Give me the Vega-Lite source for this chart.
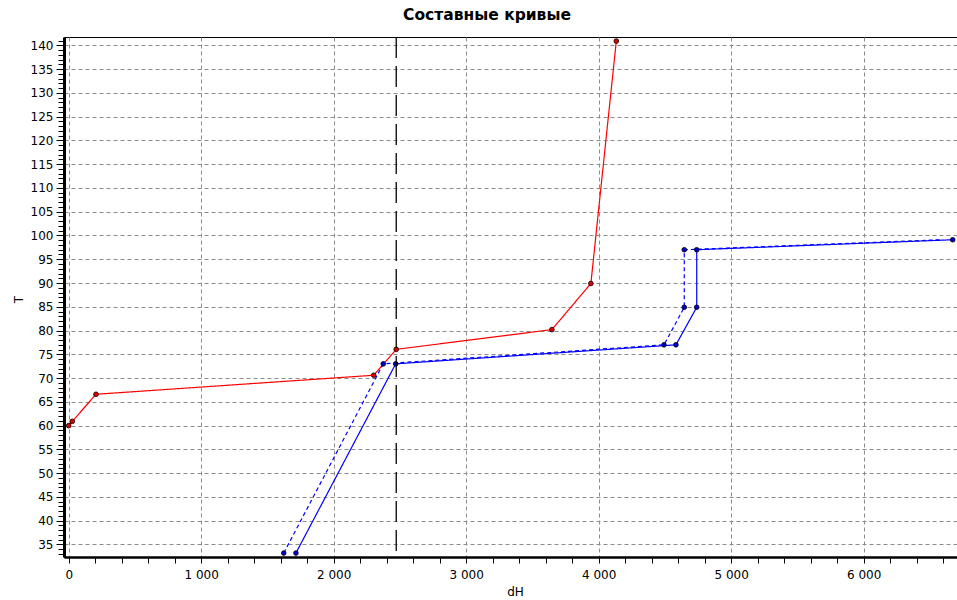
{
  "$schema": "https://vega.github.io/schema/vega-lite/v6.json",
  "autosize": {"type": "none"},
  "width": 896,
  "height": 520,
  "padding": {"left": 64, "top": 37, "right": 0, "bottom": 43},
  "background": "white",
  "title": {"text": "Составные кривые", "font": "DejaVu Sans", "fontSize": 15.5, "fontWeight": "bold", "color": "black", "anchor": "middle", "frame": "group", "dx": -25, "offset": 11},
  "config": {
    "view": {"stroke": "black", "strokeWidth": 1},
    "axis": {"labelFont": "DejaVu Sans", "labelFontSize": 12, "labelColor": "black", "titleFont": "DejaVu Sans", "titleFontSize": 12, "titleFontWeight": "normal", "titleColor": "black", "domainColor": "black", "tickColor": "black", "gridColor": "#8c8c8c", "gridDash": [4, 3], "gridWidth": 1}
  },
  "data": {
    "values": [
      {"series": "hot", "i": 1, "dH": 0, "T": 60.0},
      {"series": "hot", "i": 2, "dH": 27, "T": 60.9},
      {"series": "hot", "i": 3, "dH": 206, "T": 66.6},
      {"series": "hot", "i": 4, "dH": 2302, "T": 70.6},
      {"series": "hot", "i": 5, "dH": 2472, "T": 76.05},
      {"series": "hot", "i": 6, "dH": 3647, "T": 80.2},
      {"series": "hot", "i": 7, "dH": 3941, "T": 89.9},
      {"series": "hot", "i": 8, "dH": 4133, "T": 140.9},
      {"series": "cold", "i": 1, "dH": 1715, "T": 33.2},
      {"series": "cold", "i": 2, "dH": 2468, "T": 73.0},
      {"series": "cold", "i": 3, "dH": 4583, "T": 77.0},
      {"series": "cold", "i": 4, "dH": 4740, "T": 84.9},
      {"series": "cold", "i": 5, "dH": 4740, "T": 97.0},
      {"series": "cold", "i": 6, "dH": 6672, "T": 99.1},
      {"series": "shifted", "i": 1, "dH": 1623, "T": 33.2},
      {"series": "shifted", "i": 2, "dH": 2374, "T": 73.0},
      {"series": "shifted", "i": 3, "dH": 4493, "T": 77.0},
      {"series": "shifted", "i": 4, "dH": 4646, "T": 84.9},
      {"series": "shifted", "i": 5, "dH": 4646, "T": 97.0},
      {"series": "shifted", "i": 6, "dH": 6579, "T": 99.1}
    ]
  },
  "layer": [
    {
      "mark": {"type": "line", "strokeWidth": 1.2, "clip": true},
      "encoding": {
        "x": {"field": "dH", "type": "quantitative",
          "scale": {"domain": [-35.5, 6727], "nice": false, "zero": false},
          "axis": {
            "title": "dH", "titleX": 451, "titleY": 34, "titleBaseline": "middle",
            "tickCount": 500,
            "values": [0,200,400,600,800,1000,1200,1400,1600,1800,2000,2200,2400,2600,2800,3000,3200,3400,3600,3800,4000,4200,4400,4600,4800,5000,5200,5400,5600,5800,6000,6200,6400,6600],
            "labelExpr": "datum.value % 1000 === 0 ? replace(format(datum.value, ',d'), ',', ' ') : ''",
            "labelOverlap": false, "labelPadding": 6, "labelFlush": false,
            "domainWidth": 2.5,
            "tickSize": 6,
            "grid": true,
            "gridOpacity": {"condition": {"test": "datum.value % 1000 === 0", "value": 1}, "value": 0}
          }
        },
        "y": {"field": "T", "type": "quantitative",
          "scale": {"domain": [32.37, 141.75], "nice": false, "zero": false},
          "axis": {
            "title": "T", "titleX": -46, "titleY": 262, "titleAngle": -90, "titleAlign": "center", "titleBaseline": "middle",
            "tickCount": 500,
            "values": [33,34,35,36,37,38,39,40,41,42,43,44,45,46,47,48,49,50,51,52,53,54,55,56,57,58,59,60,61,62,63,64,65,66,67,68,69,70,71,72,73,74,75,76,77,78,79,80,81,82,83,84,85,86,87,88,89,90,91,92,93,94,95,96,97,98,99,100,101,102,103,104,105,106,107,108,109,110,111,112,113,114,115,116,117,118,119,120,121,122,123,124,125,126,127,128,129,130,131,132,133,134,135,136,137,138,139,140,141],
            "labelExpr": "datum.value % 5 === 0 ? datum.value : ''",
            "labelOverlap": false, "labelPadding": 3, "labelFlush": false,
            "domainWidth": 3,
            "tickSize": {"condition": {"test": "datum.value % 5 === 0", "value": 8}, "value": 6},
            "grid": true,
            "gridOpacity": {"condition": {"test": "datum.value % 5 === 0", "value": 1}, "value": 0}
          }
        },
        "order": {"field": "i", "type": "quantitative"},
        "color": {"field": "series", "type": "nominal", "scale": {"domain": ["hot", "cold", "shifted"], "range": ["#ff0000", "#0000ff", "#0000ff"]}, "legend": null},
        "strokeDash": {"field": "series", "type": "nominal", "scale": {"domain": ["hot", "cold", "shifted"], "range": [[1, 0], [1, 0], [4, 3]]}, "legend": null}
      }
    },
    {
      "transform": [{"filter": "!(datum.series === 'shifted' && datum.i === 6)"}],
      "mark": {"type": "point", "filled": true, "size": 22, "stroke": "#000000", "strokeWidth": 0.8, "opacity": 1},
      "encoding": {
        "x": {"field": "dH", "type": "quantitative"},
        "y": {"field": "T", "type": "quantitative"},
        "fill": {"field": "series", "type": "nominal", "scale": {"domain": ["hot", "cold", "shifted"], "range": ["#e00000", "#0000cc", "#0000cc"]}, "legend": null}
      }
    },
    {
      "data": {"values": [{"pinch": 2472}]},
      "mark": {"type": "rule", "color": "black", "strokeWidth": 1.3, "strokeDash": [21, 8]},
      "encoding": {"x": {"field": "pinch", "type": "quantitative"}}
    }
  ]
}
